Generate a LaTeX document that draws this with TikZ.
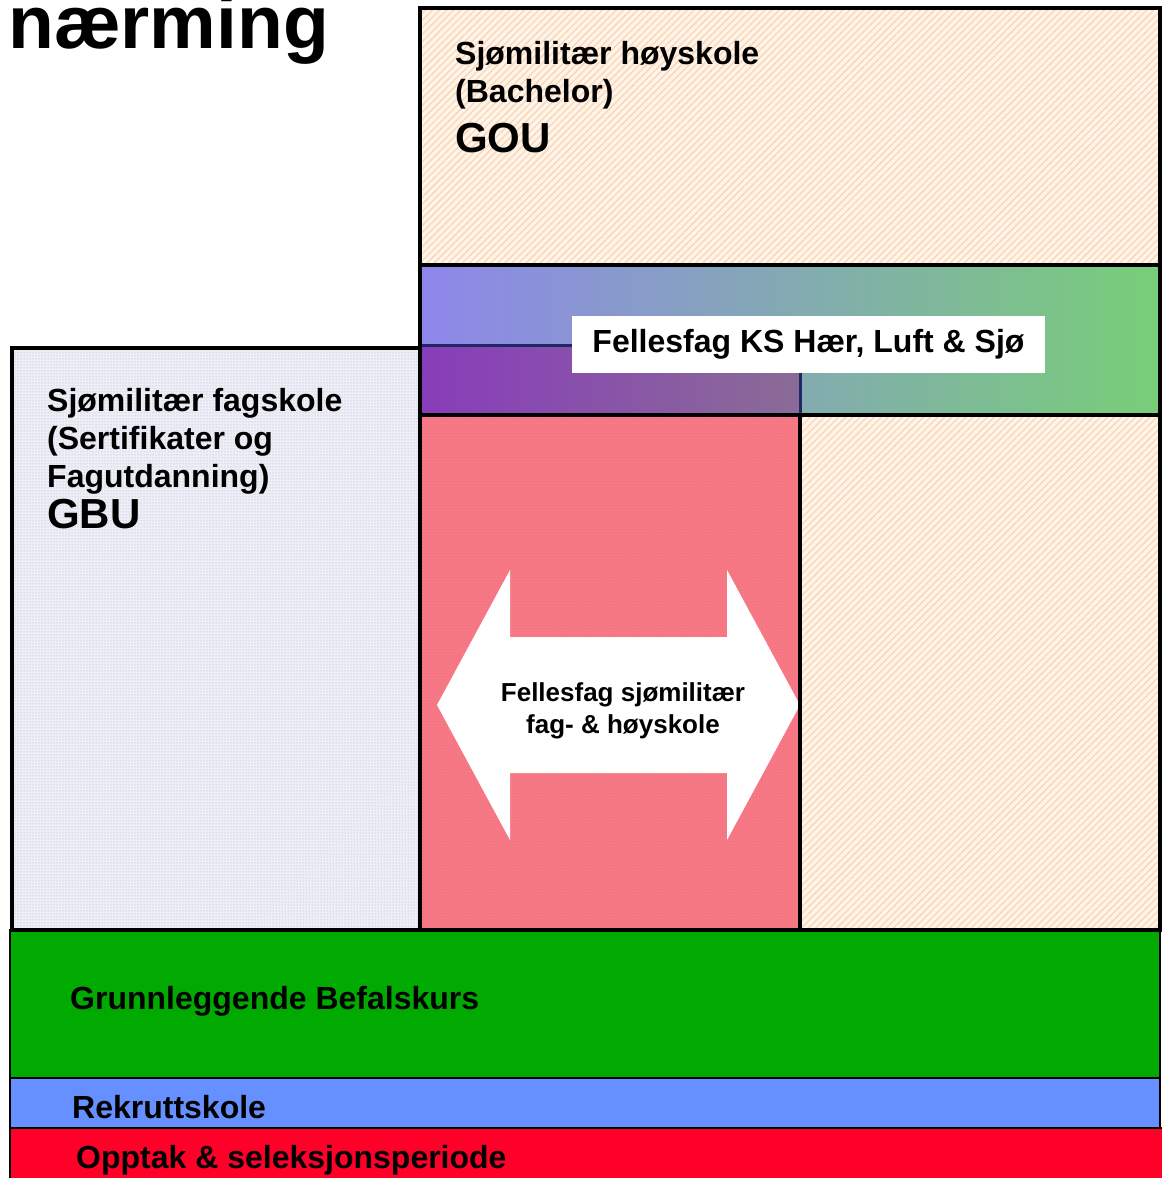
\documentclass[tikz,border=0pt]{standalone}
\usepackage{fontspec}
\setmainfont{Liberation Sans}
\usetikzlibrary{patterns.meta}
\definecolor{peachbg}{RGB}{254,244,234}
\definecolor{peachln}{RGB}{251,214,180}
\definecolor{dotbg}{RGB}{238,239,246}
\definecolor{dotln}{RGB}{165,167,205}
\definecolor{pinkred}{RGB}{247,121,133}
\definecolor{pinkdot}{RGB}{232,100,116}
\definecolor{bandleft}{RGB}{142,134,236}
\definecolor{bandmid}{RGB}{138,178,212}
\definecolor{bandright}{RGB}{120,206,120}
\definecolor{mixleft}{RGB}{136,60,186}
\definecolor{mixright}{RGB}{138,108,150}
\definecolor{mixedge}{RGB}{30,40,100}
\definecolor{gbkgreen}{RGB}{0,170,0}
\definecolor{rskblue}{RGB}{102,144,255}
\definecolor{optred}{RGB}{255,0,40}
\tikzset{
  hatchbox/.style={preaction={fill=peachbg}, pattern={Lines[angle=45,distance=5pt,line width=1.3pt]}, pattern color=peachln},
  dotbox/.style={preaction={fill=dotbg}, pattern={Dots[distance=3pt,radius=0.5pt]}, pattern color=dotln},
  pinkbox/.style={preaction={fill=pinkred}, pattern={Dots[distance=3pt,radius=0.5pt]}, pattern color=pinkdot},
  frame/.style={draw=black, line width=3.4pt},
  bar/.style={draw=black, line width=2.2pt},
  boxtext/.style={anchor=base west, inner sep=0pt, font=\bfseries\fontsize{32}{38}\selectfont},
  bigtext/.style={anchor=base west, inner sep=0pt, font=\bfseries\fontsize{42}{48}\selectfont},
  arrowtext/.style={anchor=base, inner sep=0pt, font=\bfseries\fontsize{26}{32}\selectfont}
}
\begin{document}
\begin{tikzpicture}[x=1pt, y=-1pt]
  \useasboundingbox (0,0) rectangle (1162,1178);
  % title, cut off by the page
  \node[anchor=base west, inner sep=0pt, font=\bfseries\fontsize{75}{80}\selectfont] (title) at (8,48) {nærming};
  % upper boxes
  \path[hatchbox] (420,8) rectangle (1160,265);
  \draw[frame] (420,8) rectangle (1160,265);
  \path[hatchbox] (800,415) rectangle (1160,930);
  \draw[frame] (800,415) rectangle (1160,930);
  \path[dotbox] (12,348) rectangle (420,930);
  \draw[frame] (12,348) rectangle (420,930);
  \path[pinkbox] (420,415) rectangle (800,932);
  % common subjects arrow
  \fill[white] (437,705) -- (510,570) -- (510,637) -- (727,637) -- (727,570)
    -- (800,705) -- (727,840) -- (727,773) -- (510,773) -- (510,840) -- cycle;
  \draw[frame] (420,415) rectangle (800,932);
  % gradient band
  \shade[left color=bandleft, middle color=bandmid, right color=bandright] (420,265) rectangle (1160,415);
  \shade[left color=mixleft, right color=mixright] (420,345) rectangle (800,415);
  \draw[mixedge, line width=3pt] (420,345) -- (800,345) -- (800,415);
  \draw[frame] (420,265) rectangle (1160,415);
  \node[fill=white, minimum width=473pt, minimum height=57pt, inner sep=0pt,
    text height=23pt, text depth=7pt, font=\bfseries\fontsize{32}{38}\selectfont]
    (kslabel) at (808.5,344) {Fellesfag KS Hær, Luft \& Sjø};
  % bottom bars
  \fill[gbkgreen] (10,930) rectangle (1160,1078);
  \fill[rskblue] (10,1078) rectangle (1160,1128);
  \fill[optred] (10,1128) rectangle (1162,1180);
  \draw[bar] (10,930) rectangle (1160,1078);
  \draw[bar] (10,1078) rectangle (1160,1128);
  \draw[bar] (10,1180) -- (10,1128) -- (1162,1128);
  \draw[frame] (10,930) -- (1160,930);
  % texts
  \node[boxtext] (hsk1) at (455,64) {Sjømilitær høyskole};
  \node[boxtext] (hsk2) at (455,102) {(Bachelor)};
  \node[bigtext] (gou) at (455,152) {GOU};
  \node[boxtext] (fsk1) at (47,411) {Sjømilitær fagskole};
  \node[boxtext] (fsk2) at (47,449) {(Sertifikater og};
  \node[boxtext] (fsk3) at (47,487) {Fagutdanning)};
  \node[bigtext] (gbu) at (47,528) {GBU};
  \node[arrowtext] (ff1) at (623,701) {Fellesfag sjømilitær};
  \node[arrowtext] (ff2) at (623,733) {fag- \& høyskole};
  \node[boxtext] (gbk) at (70,1009) {Grunnleggende Befalskurs};
  \node[boxtext] (rsk) at (72,1118) {Rekruttskole};
  \node[boxtext] (opt) at (76,1168) {Opptak \& seleksjonsperiode};
\end{tikzpicture}
\end{document}
